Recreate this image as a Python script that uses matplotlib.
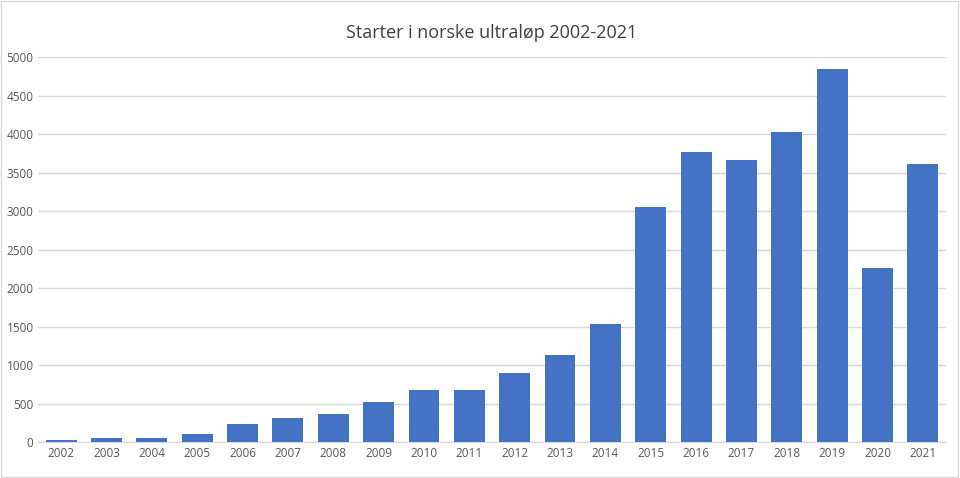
import matplotlib
matplotlib.use("Agg")
import matplotlib.pyplot as plt

years = [str(y) for y in range(2002, 2022)]
starts = [30, 50, 50, 105, 230, 310, 360, 520, 680, 680, 900, 1130, 1540, 3060, 3765, 3660, 4025, 4845, 2265, 3620]
yticks = list(range(0, 5001, 500))

plt.rcParams["font.family"] = "Open Sans"
fig = plt.figure(figsize=(9.6, 4.78), dpi=100)
ax = fig.add_axes([0.040, 0.075, 0.945, 0.805])
ax.bar(years, starts, width=0.68, color="#4472C4", zorder=3)
ax.set_ylim(0, 5000)
ax.set_xlim(-0.5, len(years) - 0.5)
ax.set_yticks(yticks)
ax.grid(axis="y", color="#D9D9D9", linewidth=1, zorder=0)
for s in ["top", "right", "left"]:
    ax.spines[s].set_visible(False)
ax.spines["bottom"].set_color("#D9D9D9")
ax.tick_params(length=0, labelsize=8.5, labelcolor="#595959")
ax.set_title("Starter i norske ultraløp 2002-2021", fontsize=13, color="#404040", pad=14)
fig.patches.append(plt.Rectangle((0.001, 0.002), 0.997, 0.996, transform=fig.transFigure,
                                 fill=False, edgecolor="#D9D9D9", linewidth=1))
fig.savefig("out.png", dpi=100)
